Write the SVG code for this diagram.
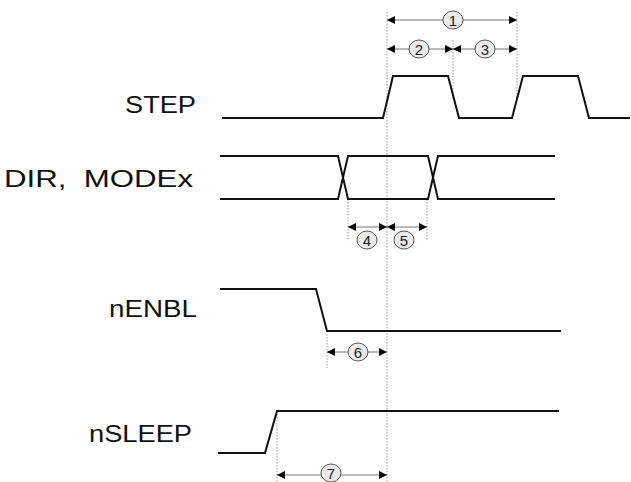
<svg xmlns="http://www.w3.org/2000/svg" width="631" height="482" viewBox="0 0 631 482">
<defs>
<style>
.sig{fill:none;stroke:#111;stroke-width:2;stroke-linejoin:miter}
.dot{fill:none;stroke:#999;stroke-width:1;stroke-dasharray:1.5,1.5}
.dim{fill:none;stroke:#777;stroke-width:1;marker-start:url(#ah);marker-end:url(#ah)}
.lbl{font-family:"Liberation Sans",Arial,sans-serif;font-size:24px;fill:#111;text-anchor:end}
.num{font-family:"Liberation Sans",Arial,sans-serif;font-size:15px;fill:#222;text-anchor:middle}
.bub{fill:#eaeaea;stroke:#555;stroke-width:1}
</style>
<marker id="ah" viewBox="0 0 10 10" refX="10" refY="5" markerWidth="10" markerHeight="8" markerUnits="userSpaceOnUse" orient="auto-start-reverse">
<path d="M0,0 L10,5 L0,10 Z" fill="#000"/>
</marker>
</defs>
<rect width="631" height="482" fill="#fff"/>
<g id="labels">
<text class="lbl" x="196" y="113" textLength="71" lengthAdjust="spacingAndGlyphs">STEP</text>
<text class="lbl" x="193" y="187" textLength="189" lengthAdjust="spacingAndGlyphs" xml:space="preserve">DIR,  MODEx</text>
<text class="lbl" x="197" y="317" textLength="88" lengthAdjust="spacingAndGlyphs">nENBL</text>
<text class="lbl" x="192" y="442" textLength="103" lengthAdjust="spacingAndGlyphs">nSLEEP</text>
</g>
<g id="guides">
<line class="dot" x1="387" y1="12" x2="387" y2="482"/>
<line class="dot" x1="517" y1="12" x2="517" y2="98"/>
<line class="dot" x1="453" y1="40" x2="453" y2="100"/>
<line class="dot" x1="348" y1="199" x2="348" y2="240"/>
<line class="dot" x1="427" y1="199" x2="427" y2="240"/>
<line class="dot" x1="327" y1="331" x2="327" y2="368"/>
<line class="dot" x1="277" y1="411" x2="277" y2="482"/>
</g>
<g id="STEP">
<polyline class="sig" points="222,118 383,118 393,76 448,76 459,118 512,118 523,76 578,76 589,118 630,118"/>
</g>
<g id="DIR">
<polyline class="sig" points="220,156 338,156 348,199 428,199 438,156 555,156"/>
<polyline class="sig" points="220,199 338,199 348,156 428,156 438,199 555,199"/>
</g>
<g id="nENBL">
<polyline class="sig" points="220,289 316,289 327,331 561,331"/>
</g>
<g id="nSLEEP">
<polyline class="sig" points="218,453 265,453 277,411 559,411"/>
</g>
<g id="connectors">
<line class="dim" x1="387" y1="20" x2="517" y2="20"/>
<line class="dim" x1="387" y1="49" x2="453" y2="49"/>
<line class="dim" x1="453" y1="49" x2="517" y2="49"/>
<line class="dim" x1="348" y1="227" x2="387" y2="227"/>
<line class="dim" x1="387" y1="227" x2="427" y2="227"/>
<line class="dim" x1="327" y1="352" x2="387" y2="352"/>
<line class="dim" x1="277" y1="475" x2="387" y2="475"/>
</g>
<g id="m1"><ellipse class="bub" cx="453" cy="20" rx="10" ry="9"/><text class="num" x="453" y="25.5">1</text></g>
<g id="m2"><ellipse class="bub" cx="419" cy="49" rx="10" ry="9"/><text class="num" x="419" y="54.5">2</text></g>
<g id="m3"><ellipse class="bub" cx="485" cy="49" rx="10" ry="9"/><text class="num" x="485" y="54.5">3</text></g>
<g id="m4"><ellipse class="bub" cx="367" cy="240" rx="10" ry="9"/><text class="num" x="367" y="245.5">4</text></g>
<g id="m5"><ellipse class="bub" cx="404" cy="240" rx="10" ry="9"/><text class="num" x="404" y="245.5">5</text></g>
<g id="m6"><ellipse class="bub" cx="358" cy="352" rx="10" ry="9"/><text class="num" x="358" y="357.5">6</text></g>
<g id="m7"><ellipse class="bub" cx="331" cy="473" rx="10" ry="9"/><text class="num" x="331" y="478.5">7</text></g>
</svg>
